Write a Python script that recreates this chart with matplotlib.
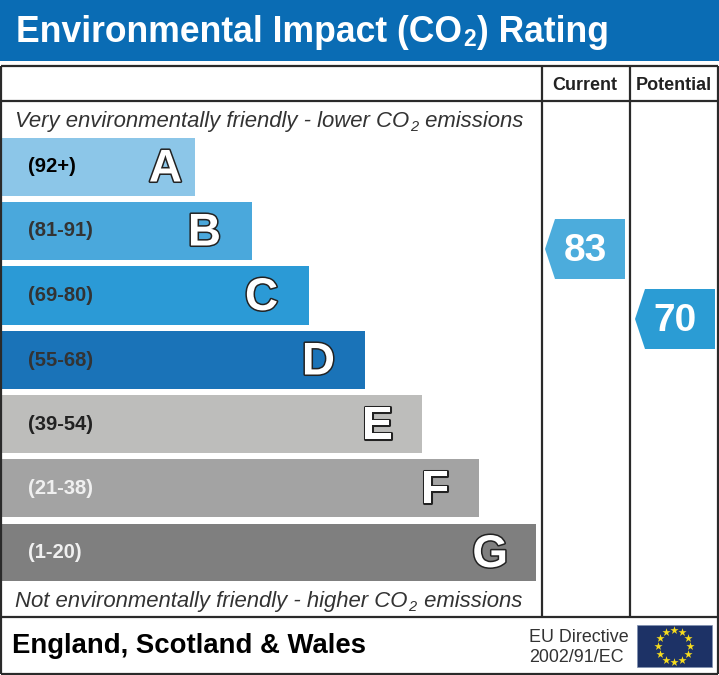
#!/usr/bin/env python
import numpy as np
import matplotlib
matplotlib.use('Agg')
import matplotlib.pyplot as plt
from matplotlib.patches import Polygon, Rectangle
import matplotlib.patheffects as pe

plt.rcParams['font.family'] = ['Liberation Sans', 'DejaVu Sans']

# bands, top to bottom
letters = ['A', 'B', 'C', 'D', 'E', 'F', 'G']
ranges = ['(92+)', '(81-91)', '(69-80)', '(55-68)', '(39-54)', '(21-38)', '(1-20)']
bar_ends = [195, 252, 309, 365, 422, 479, 536]
bar_tops = [138, 202, 266, 331, 395, 459, 524]
bar_bottoms = [196, 260, 325, 389, 453, 517, 581]
letter_right = [182, 221, 278, 335, 393, 449, 508]
bar_colors = ['#8cc6e8', '#4aa8dc', '#2b9ad6', '#1a73b8', '#bdbdbb', '#a3a3a3', '#7f7f7f']
range_colors = ['#000000', '#333333', '#333333', '#333333', '#222222', '#f0f0f0', '#f0f0f0']

# current / potential scores
scores = [83, 70]
score_left = [545, 635]
score_top = [219, 289]
score_colors = ['#4cacdc', '#2b9cd4']

columns = ['Current', 'Potential']
column_x = [585, 674]

fig = plt.figure(figsize=(7.19, 6.75), dpi=100)
ax = fig.add_axes([0, 0, 1, 1])
ax.set_xlim(0, 719)
ax.set_ylim(675, 0)
ax.axis('off')


def pieces(x, y, parts, **kw):
    # lay out text parts one after another (for the CO2 subscript)
    r = fig.canvas.get_renderer()
    for s, size, dy in parts:
        t = ax.text(x, y + dy, s, fontsize=size, va='baseline', ha='left', **kw)
        x = t.get_window_extent(r).x1 + 1


# header
ax.add_patch(Rectangle((0, 0), 719, 61, fc='#0a6cb4', ec='none'))
pieces(16, 41.5, [('Environmental Impact (CO', 25.6, 0), ('2', 16.5, 5), (') Rating', 25.6, 0)],
       color='white', fontweight='bold')

# frame
line = dict(color='#2a2a2a', lw=1.6, solid_capstyle='butt')
for y in [66, 101, 617, 674]:
    ax.plot([1, 718], [y, y], **line)
for x in [1, 718]:
    ax.plot([x, x], [66, 674], **line)
for x in [542, 630]:
    ax.plot([x, x], [66, 617], **line)

for name, x in zip(columns, column_x):
    ax.text(x, 85, name, ha='center', va='center', fontsize=13, fontweight='bold', color='#222222')

# bands
for i in range(len(letters)):
    mid = (bar_tops[i] + bar_bottoms[i]) / 2
    ax.barh(mid, bar_ends[i] - 2, left=2, height=bar_bottoms[i] - bar_tops[i], color=bar_colors[i])
    ax.text(28, mid, ranges[i], ha='left', va='center',
            fontsize=14.5, fontweight='bold', color=range_colors[i])
    ax.text(letter_right[i], mid + 2.5, letters[i], ha='right', va='center',
            fontsize=33, fontweight='bold', color='white',
            path_effects=[pe.withStroke(linewidth=2.2, foreground='#222222')])

# top / bottom captions
cap = dict(color='#333333', style='italic')
pieces(15, 127, [('Very environmentally friendly - lower CO', 15.9, 0), ('2', 10.5, 4), (' emissions', 15.9, 0)], **cap)
pieces(15, 607, [('Not environmentally friendly - higher CO', 15.9, 0), ('2', 10.5, 4), (' emissions', 15.9, 0)], **cap)

# score arrows
for score, left, top, col in zip(scores, score_left, score_top, score_colors):
    ax.add_patch(Polygon([(left, top + 30), (left + 10, top), (left + 80, top),
                          (left + 80, top + 60), (left + 10, top + 60)], fc=col, ec='none'))
    ax.text(left + 40, top + 32, str(score), ha='center', va='center',
            fontsize=28, fontweight='bold', color='white')

# footer
ax.text(12, 646, 'England, Scotland & Wales', ha='left', va='center',
        fontsize=19.8, fontweight='bold', color='black')
ax.text(529, 637, 'EU Directive', ha='left', va='center', fontsize=12.9, color='#333333')
ax.text(529, 657, '2002/91/EC', ha='left', va='center', fontsize=12.9, color='#333333')

# EU flag
ax.add_patch(Rectangle((637, 625), 75, 42, fc='#1d3266', ec='#8090b0', lw=0.5))
a = np.arange(12) * np.pi / 6
ax.scatter(674 + 16 * np.sin(a), 646 - 16 * np.cos(a), marker='*', s=38, c='#f6dc1e', linewidths=0, zorder=3)

fig.savefig('out.png', dpi=100)
